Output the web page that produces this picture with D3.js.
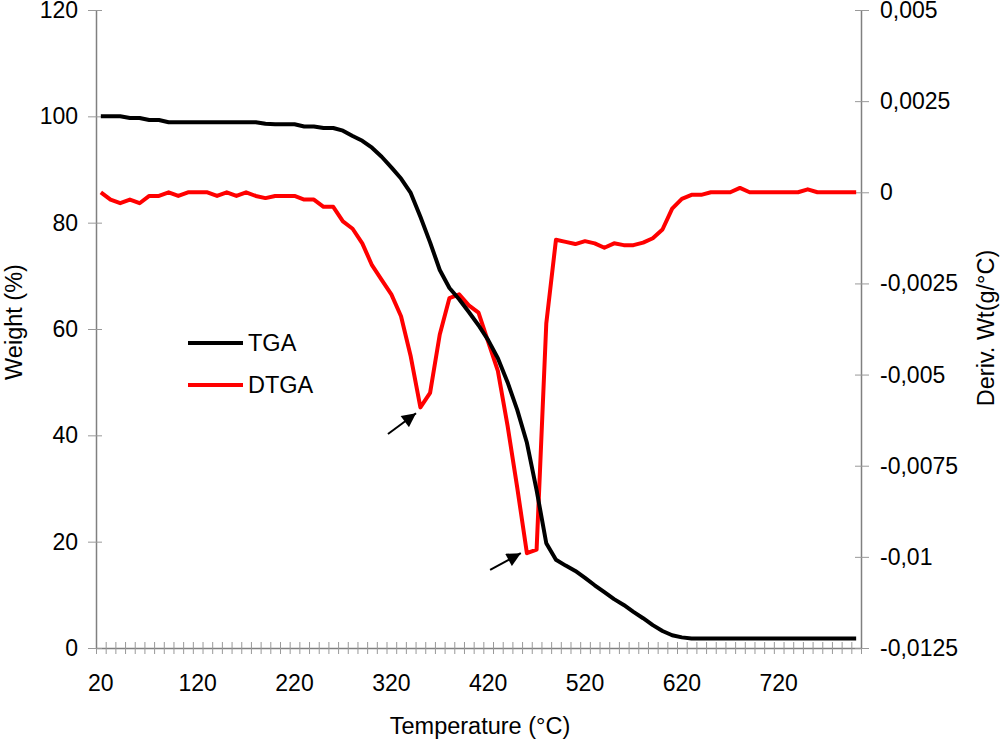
<!DOCTYPE html>
<html>
<head>
<meta charset="utf-8">
<script src="https://cdn.jsdelivr.net/npm/d3@7"></script>
<style>
  body { margin: 0; background: #fff; }
  svg text { font-family: "Liberation Sans", Arial, sans-serif; fill: #000; }
</style>
</head>
<body>
<div class="container"></div>
<script>
// temperature categories (°C), one reading every 10 degrees
var temps = d3.range(20, 801, 10);

// weight loss (%)
var tga = [
	100, 100, 100, 99.7, 99.7, 99.3, 99.3, 98.9, 98.9, 98.9,
	98.9, 98.9, 98.9, 98.9, 98.9, 98.9, 98.9, 98.6, 98.5, 98.5,
	98.5, 98.1, 98.1, 97.8, 97.8, 97.3, 96.3, 95.4, 94.1, 92.4,
	90.4, 88.3, 85.6, 81.1, 76.3, 71.1, 67.7, 65.6, 63.2, 60.7,
	57.9, 54.5, 50.0, 44.8, 38.6, 29.7, 19.7, 16.6, 15.5, 14.5,
	13.2, 11.8, 10.5, 9.2, 8.1, 6.8, 5.6, 4.3, 3.2, 2.4,
	2.0, 1.8, 1.8, 1.8, 1.8, 1.8, 1.8, 1.8, 1.8, 1.8,
	1.8, 1.8, 1.8, 1.8, 1.8, 1.8, 1.8, 1.8, 1.8
];

// derivative weight (g/°C)
var dtga = [
	0, -0.0002, -0.0003, -0.0002, -0.0003, -0.0001, -0.0001, 0, -0.0001, 0,
	0, 0, -0.0001, 0, -0.0001, 0, -0.0001, -0.00016, -0.0001, -0.0001,
	-0.0001, -0.0002, -0.0002, -0.0004, -0.0004, -0.0008, -0.001, -0.0014, -0.002, -0.0024,
	-0.0028, -0.0034, -0.0045, -0.0059, -0.0055, -0.0039, -0.0029, -0.0028, -0.0031, -0.0033,
	-0.0041, -0.0049, -0.0064, -0.0081, -0.0099, -0.0098, -0.0036, -0.0013, -0.00136, -0.00142,
	-0.00134, -0.0014, -0.00152, -0.0014, -0.00145, -0.00145, -0.00138, -0.00126, -0.00102, -0.00045,
	-0.00018, -0.00007, -0.00007, 0, 0, 0, 0.00012, 0, 0, 0,
	0, 0, 0, 0.00008, 0, 0, 0, 0, 0
];

var xLabels = [20, 120, 220, 320, 420, 520, 620, 720];
var leftTicks = [0, 20, 40, 60, 80, 100, 120];
var rightTicks = [-0.0125, -0.01, -0.0075, -0.005, -0.0025, 0, 0.0025, 0.005];

// arrows pointing at the two DTGA minima, in data units [from, to]
var arrows = [
	[[316.5, -0.00663], [345.5, -0.00606]],
	[[422, -0.01036], [453.7, -0.0099]]
];

var width = 1000, height = 741;
var plotLeft = 96, plotRight = 861, plotTop = 10, plotBottom = 648;

var svg = d3.select('.container').append('svg')
	.attr('width', width)
	.attr('height', height);

svg.append('defs').append('marker')
	.attr('id', 'head')
	.attr('viewBox', '0 0 10 10')
	.attr('refX', 10).attr('refY', 5)
	.attr('markerWidth', 8).attr('markerHeight', 7)
	.attr('markerUnits', 'strokeWidth')
	.attr('orient', 'auto')
	.append('path')
	.attr('d', 'M0,0 L10,5 L0,10 z')
	.attr('fill', '#000');

// category axis: 79 slots of 10 degrees, labels in the middle of each slot
var x = d3.scaleLinear().domain([15, 805]).range([plotLeft, plotRight]);
var yL = d3.scaleLinear().domain([0, 120]).range([plotBottom, plotTop]);
var yR = d3.scaleLinear().domain([-0.0125, 0.005]).range([plotBottom, plotTop]);

var fmt = function (d) {
	if (d === 0) return '0';
	return String(+d.toFixed(4)).replace('.', ',');
};

// axes
var xAxis = d3.axisBottom(x)
	.tickValues(d3.range(15, 806, 10))
	.tickSize(0)
	.tickFormat('');
var gx = svg.append('g').attr('transform', 'translate(0,' + plotBottom + ')').call(xAxis);
gx.select('.domain').attr('stroke', '#808080').attr('stroke-width', 1.5);
gx.selectAll('.tick line').attr('y1', -6).attr('y2', 6).attr('stroke', '#999');

svg.selectAll('.xlab').data(xLabels).enter().append('text')
	.attr('x', function (d) { return x(d); })
	.attr('y', 691)
	.attr('text-anchor', 'middle')
	.style('font-size', '23px')
	.text(function (d) { return d; });

var gl = svg.append('g').attr('transform', 'translate(' + plotLeft + ',0)')
	.call(d3.axisLeft(yL).tickValues(leftTicks).tickSize(0).tickFormat(''));
gl.select('.domain').attr('stroke', '#808080').attr('stroke-width', 1.5);
gl.selectAll('.tick line').attr('x1', -8).attr('x2', 6).attr('stroke', '#999');

svg.selectAll('.llab').data(leftTicks).enter().append('text')
	.attr('x', 78)
	.attr('y', function (d) { return yL(d); })
	.attr('dy', '0.35em')
	.attr('text-anchor', 'end')
	.style('font-size', '23px')
	.text(function (d) { return d; });

var gr = svg.append('g').attr('transform', 'translate(' + plotRight + ',0)')
	.call(d3.axisRight(yR).tickValues(rightTicks).tickSize(0).tickFormat(''));
gr.select('.domain').attr('stroke', '#808080').attr('stroke-width', 1.5);
gr.selectAll('.tick line').attr('x1', -6).attr('x2', 8).attr('stroke', '#999');

svg.selectAll('.rlab').data(rightTicks).enter().append('text')
	.attr('x', 880)
	.attr('y', function (d) { return yR(d); })
	.attr('dy', '0.35em')
	.style('font-size', '23px')
	.text(fmt);

// axis titles
svg.append('text')
	.attr('x', 480).attr('y', 734)
	.attr('text-anchor', 'middle')
	.style('font-size', '23.5px')
	.text('Temperature (°C)');

svg.append('text')
	.attr('transform', 'translate(22,322) rotate(-90)')
	.attr('text-anchor', 'middle')
	.style('font-size', '23.5px')
	.text('Weight (%)');

svg.append('text')
	.attr('transform', 'translate(994,328) rotate(-90)')
	.attr('text-anchor', 'middle')
	.style('font-size', '23.5px')
	.text('Deriv. Wt(g/°C)');

// curves
var tgaLine = d3.line()
	.x(function (d, i) { return x(temps[i]); })
	.y(function (d) { return yL(d); });

var dtgaLine = d3.line()
	.x(function (d, i) { return x(temps[i]); })
	.y(function (d) { return yR(d); });

svg.append('path')
	.datum(dtga)
	.attr('d', dtgaLine)
	.attr('fill', 'none')
	.attr('stroke', '#ff0000')
	.attr('stroke-width', 4)
	.attr('stroke-linejoin', 'round');

svg.append('path')
	.datum(tga)
	.attr('d', tgaLine)
	.attr('fill', 'none')
	.attr('stroke', '#000')
	.attr('stroke-width', 4)
	.attr('stroke-linejoin', 'round');

// arrows
svg.selectAll('.arrow').data(arrows).enter().append('line')
	.attr('x1', function (d) { return x(d[0][0]); })
	.attr('y1', function (d) { return yR(d[0][1]); })
	.attr('x2', function (d) { return x(d[1][0]); })
	.attr('y2', function (d) { return yR(d[1][1]); })
	.attr('stroke', '#000')
	.attr('stroke-width', 2)
	.attr('marker-end', 'url(#head)');

// legend
var legend = [
	{ name: 'TGA', color: '#000', y: 343 },
	{ name: 'DTGA', color: '#ff0000', y: 385 }
];
var lg = svg.selectAll('.legend').data(legend).enter().append('g');
lg.append('line')
	.attr('x1', 188).attr('x2', 243)
	.attr('y1', function (d) { return d.y; })
	.attr('y2', function (d) { return d.y; })
	.attr('stroke', function (d) { return d.color; })
	.attr('stroke-width', 4);
lg.append('text')
	.attr('x', 248)
	.attr('y', function (d) { return d.y; })
	.attr('dy', '0.35em')
	.style('font-size', '23.5px')
	.text(function (d) { return d.name; });
</script>
</body>
</html>
